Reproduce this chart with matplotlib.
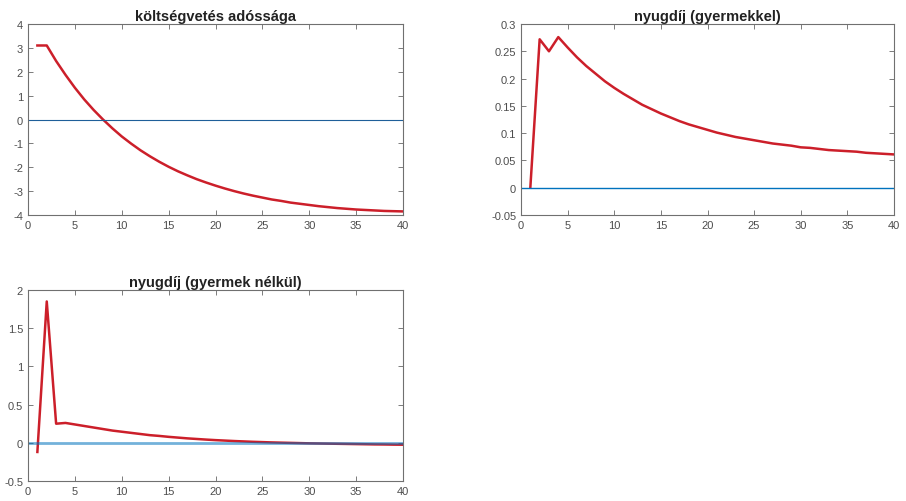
import matplotlib
matplotlib.use('Agg')
import matplotlib.pyplot as plt
from matplotlib.ticker import FuncFormatter

plt.rcParams['font.family'] = ['Liberation Sans', 'DejaVu Sans']
plt.rcParams['axes.unicode_minus'] = False

periods = list(range(1, 41))

# budget debt
debt = [3.10, 3.10, 2.45, 1.87, 1.33, 0.84, 0.40, 0.00, -0.37, -0.71,
        -1.01, -1.29, -1.54, -1.77, -1.98, -2.17, -2.34, -2.50, -2.64, -2.77,
        -2.89, -3.00, -3.10, -3.19, -3.27, -3.35, -3.41, -3.48, -3.53, -3.58,
        -3.63, -3.67, -3.71, -3.74, -3.77, -3.79, -3.81, -3.83, -3.84, -3.85]

# pension (with children)
pension_kids = [0.0, 0.272, 0.250, 0.276, 0.257, 0.239, 0.223, 0.209, 0.195, 0.183,
                0.172, 0.162, 0.152, 0.144, 0.136, 0.129, 0.122, 0.116, 0.111, 0.106,
                0.101, 0.097, 0.093, 0.090, 0.087, 0.084, 0.081, 0.079, 0.077, 0.074,
                0.073, 0.071, 0.069, 0.068, 0.067, 0.066, 0.064, 0.063, 0.062, 0.061]

# pension (without children)
pension_nokids = [-0.12, 1.85, 0.25, 0.26, 0.24, 0.22, 0.20, 0.18, 0.16, 0.145,
                  0.13, 0.115, 0.10, 0.09, 0.078, 0.068, 0.058, 0.05, 0.042, 0.035,
                  0.029, 0.023, 0.018, 0.013, 0.009, 0.005, 0.002, -0.001, -0.004, -0.007,
                  -0.009, -0.011, -0.013, -0.015, -0.017, -0.019, -0.021, -0.022, -0.024, -0.025]

panels = [
    ('költségvetés adóssága', debt, (-4, 4), [-4, -3, -2, -1, 0, 1, 2, 3, 4], '#1f5f99', 0.8, 1.0),
    ('nyugdíj (gyermekkel)', pension_kids, (-0.05, 0.3),
     [-0.05, 0, 0.05, 0.1, 0.15, 0.2, 0.25, 0.3], '#0072BD', 1.0, 1.0),
    ('nyugdíj (gyermek nélkül)', pension_nokids, (-0.5, 2),
     [-0.5, 0, 0.5, 1, 1.5, 2], '#0072BD', 2.0, 0.55),
]

# axes rectangles in figure fractions (left, bottom, width, height)
W, H = 906, 502
rects = [
    (28 / W, 1 - 216 / H, 375 / W, 191 / H),
    (521 / W, 1 - 216 / H, 373 / W, 191 / H),
    (28 / W, 1 - 482 / H, 375 / W, 191 / H),
]

red = '#CC1F2A'
fig = plt.figure(figsize=(9.06, 5.02), dpi=100)

for (title, vals, ylim, yticks, zc, zlw, zalpha), rect in zip(panels, rects):
    ax = fig.add_axes(rect)
    ax.plot(periods, vals, color=red, lw=1.8)
    ax.axhline(0, color=zc, lw=zlw, alpha=zalpha)
    ax.set_xlim(0, 40)
    ax.set_ylim(*ylim)
    ax.set_xticks(range(0, 41, 5))
    ax.set_yticks(yticks)
    ax.yaxis.set_major_formatter(FuncFormatter(lambda v, p: '%g' % round(v, 4)))
    ax.tick_params(direction='in', top=True, right=True, length=3.5, width=0.6,
                   labelsize=8, colors='#666666', labelcolor='#4d4d4d', pad=3.5)
    for s in ax.spines.values():
        s.set_color('#707070')
        s.set_linewidth(0.8)
    ax.set_title(title, fontsize=10.5, fontweight='bold', color='#222222', pad=3)

fig.savefig('out.png', dpi=100, facecolor='white')
